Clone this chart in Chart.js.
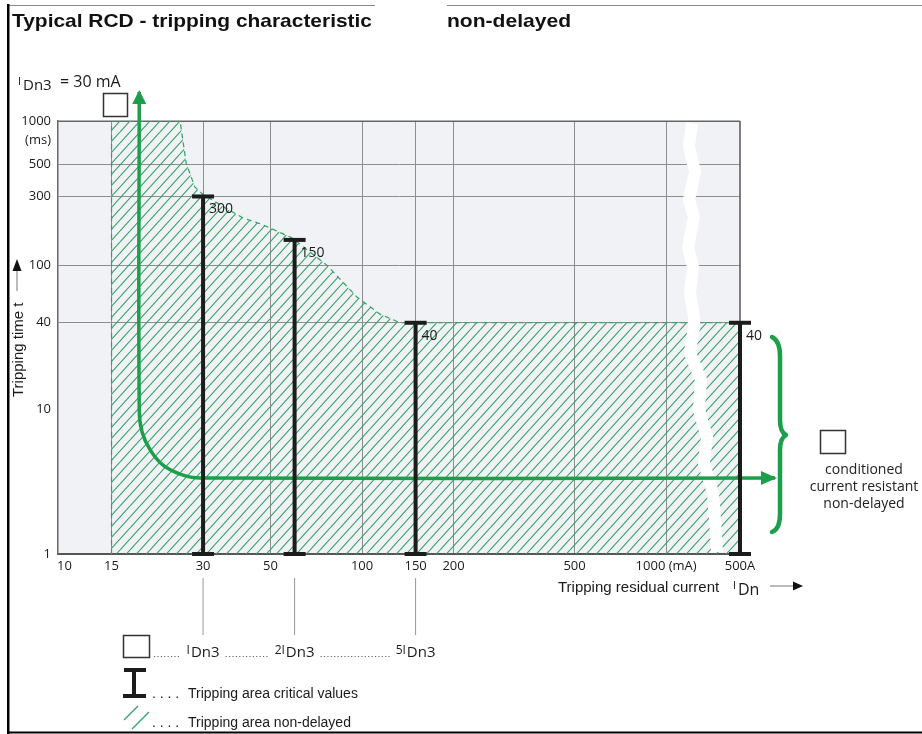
<!DOCTYPE html>
<html>
<head>
<meta charset="utf-8">
<title>Typical RCD - tripping characteristic</title>
<script src="https://cdn.jsdelivr.net/npm/chart.js@4.4.1/dist/chart.umd.min.js"></script>
<style>
html,body{margin:0;padding:0;background:#fff;width:922px;height:734px;overflow:hidden}
canvas{display:block}
</style>
</head>
<body>
<canvas id="chart" width="922" height="734"></canvas>
<script>
// ---------------- data ----------------
const xTickValues = [10, 15, 30, 50, 100, 150, 200, 500, 1000, 1750];
const xTickLabels = ['10', '15', '30', '50', '100', '150', '200', '500', '1000 (mA)', '500A'];
const yTickValues = [1, 10, 40, 100, 300, 500, 1000];
const yTickLabels = ['1', '10', '40', '100', '300', '500', '1000'];

// critical values (I-beams): residual current (mA) and tripping time (ms)
const criticalCurrent = [30, 60, 150, 1750];
const criticalTime = [300, 150, 40, 40];
const criticalLabels = ['300', '150', '40', '40'];
const legendMultiples = ['', '2', '5'];

// boundary of the non-delayed tripping area
const areaCurrent = [15, 25.2, 26.4, 28.2, 30.0, 35.4, 40.6, 47.2, 58.8, 76.7, 96.2, 114.6, 133.3, 1750];
const areaTime = [1000, 1000, 510, 348, 310, 251, 213, 191, 155, 100, 60.3, 45.9, 40, 40];

// typical tripping curve (green L-shaped arrow)
const typicalCurrent = [18.5, 18.5, 18.9, 20.1, 22.1, 25.2, 29.3, 2280];
const typicalTime = [1589, 9.95, 7.0, 5.26, 4.14, 3.58, 3.36, 3.36];

// white axis-break zigzag
const breakCurrent = [1216, 1189, 1245, 1189, 1235, 1180, 1226, 1198, 1235, 1235, 1198, 1302, 1283, 1363, 1332, 1426, 1459, 1470];
const breakTime = [969, 661, 443, 284, 216, 134, 97.4, 64.3, 43.9, 37.4, 24.7, 16.1, 9.95, 6.47, 4.27, 2.65, 1.40, 1.03];

// ---------------- styles ----------------
const GREEN = '#1c9e4a';
const HATCH = '#34a064';
const BLACK = '#1c1c1c';
const SANS = '"Open Sans", sans-serif';
const ARIAL = '"Liberation Sans", Arial, sans-serif';

function makeHatch() {
  const w = 10, h = 11;
  const c = document.createElement('canvas');
  c.width = w; c.height = h;
  const g = c.getContext('2d');
  g.strokeStyle = HATCH;
  g.lineWidth = 1.1;
  for (const o of [-w, 0, w]) {
    g.beginPath(); g.moveTo(o, h); g.lineTo(o + w, 0); g.stroke();
  }
  return g.createPattern(c, 'repeat');
}
const hatch = makeHatch();

const pts = (xs, ys) => xs.map((x, i) => ({ x: x, y: ys[i] }));

const datasets = [];
datasets.push({
  label: 'area', data: pts(areaCurrent, areaTime),
  borderColor: HATCH, borderWidth: 1.2, borderDash: [5, 4],
  backgroundColor: hatch, fill: 'start', pointRadius: 0, tension: 0, order: 10
});
datasets.push({
  label: 'areaEdge',
  data: [{ x: areaCurrent[0], y: yTickValues[0] }, { x: areaCurrent[0], y: areaTime[0] }],
  borderColor: HATCH, borderWidth: 1.2, borderDash: [5, 4], fill: false, pointRadius: 0, order: 9
});
datasets.push({
  label: 'break', data: pts(breakCurrent, breakTime),
  borderColor: '#ffffff', borderWidth: 12, borderJoinStyle: 'miter', fill: false, pointRadius: 0, order: 5
});
const TYP = datasets.length;
datasets.push({
  label: 'typical', data: pts(typicalCurrent, typicalTime),
  borderColor: GREEN, borderWidth: 3.5, fill: false, pointRadius: 0, tension: 0.4, clip: false, order: 3
});
const CRIT = datasets.length;
criticalCurrent.forEach((c, i) => {
  datasets.push({
    label: 'critical ' + criticalLabels[i],
    data: [{ x: c, y: yTickValues[0] }, { x: c, y: criticalTime[i] }],
    borderColor: BLACK, borderWidth: 4, fill: false,
    pointStyle: 'line', pointRadius: 11, pointBorderWidth: 4,
    pointBorderColor: BLACK, pointBackgroundColor: BLACK, clip: false, order: 1
  });
});

// ---------------- helpers ----------------
function txt(ctx, s, x, y, font, opts) {
  opts = opts || {};
  ctx.save();
  ctx.font = font;
  ctx.fillStyle = opts.color || '#1a1a1a';
  ctx.textAlign = opts.align || 'left';
  ctx.textBaseline = opts.baseline || 'alphabetic';
  ctx.fillText(s, x, y);
  ctx.restore();
}
function stretched(ctx, s, x, y, font, targetW) {
  ctx.save();
  ctx.font = font;
  const w = ctx.measureText(s).width;
  ctx.translate(x, y);
  ctx.scale(targetW / w, 1);
  ctx.fillStyle = '#111';
  ctx.textBaseline = 'alphabetic';
  ctx.fillText(s, 0, 0);
  ctx.restore();
}
function line(ctx, x1, y1, x2, y2, color, w, dash) {
  ctx.save();
  ctx.strokeStyle = color; ctx.lineWidth = w;
  if (dash) ctx.setLineDash(dash);
  ctx.beginPath(); ctx.moveTo(x1, y1); ctx.lineTo(x2, y2); ctx.stroke();
  ctx.restore();
}
function tri(ctx, a, b, c, color) {
  ctx.save(); ctx.fillStyle = color;
  ctx.beginPath(); ctx.moveTo(a[0], a[1]); ctx.lineTo(b[0], b[1]); ctx.lineTo(c[0], c[1]); ctx.closePath(); ctx.fill();
  ctx.restore();
}
function box(ctx, x, y, w, h) {
  ctx.save(); ctx.strokeStyle = '#333'; ctx.lineWidth = 1.5;
  ctx.strokeRect(x + 0.5, y + 0.5, w, h); ctx.restore();
}
// draws  [prefix]I(small) + "Dn3"(large), centred on cx; returns [left, right]
function idn(ctx, prefix, cx, base, small, big, sub) {
  ctx.save();
  ctx.font = small + 'px ' + SANS;
  const wp = ctx.measureText(prefix + 'I').width;
  ctx.font = big + 'px ' + SANS;
  const wd = ctx.measureText(sub).width;
  const total = wp + 1 + wd;
  const left = cx - total / 2;
  ctx.restore();
  txt(ctx, prefix + 'I', left, base - 3, small + 'px ' + SANS);
  txt(ctx, sub, left + wp + 1, base, big + 'px ' + SANS);
  return [left, left + total];
}

const decor = {
  id: 'decor',
  beforeDraw(chart) {
    const { ctx, chartArea: a } = chart;
    ctx.save();
    ctx.fillStyle = '#f0f2f5';
    ctx.fillRect(a.left, a.top, a.right - a.left, a.bottom - a.top);
    ctx.restore();
  },
  beforeDatasetsDraw(chart) {
    const { ctx, chartArea: a } = chart;
    line(ctx, a.right, a.top, a.right, a.bottom, '#555', 1.5);
    line(ctx, a.left, a.top, a.right, a.top, '#666', 1.2);
  },
  afterDatasetsDraw(chart) {
    const ctx = chart.ctx;
    const m = chart.getDatasetMeta(TYP);
    const p0 = m.data[0], pN = m.data[m.data.length - 1];
    tri(ctx, [p0.x, p0.y - 2], [p0.x - 7, p0.y + 12], [p0.x + 7, p0.y + 12], GREEN);
    tri(ctx, [pN.x + 2, pN.y], [pN.x - 14, pN.y - 7], [pN.x - 14, pN.y + 7], GREEN);
    criticalLabels.forEach((s, i) => {
      const top = chart.getDatasetMeta(CRIT + i).data[1];
      txt(ctx, s, top.x + 6, top.y + 13, '14px ' + SANS, { baseline: 'middle' });
    });
  },
  afterDraw(chart) {
    const ctx = chart.ctx;
    const ys = chart.scales.y;
    // page frame
    line(ctx, 8, 5.5, 375, 5.5, '#8a8a8a', 1.2);
    line(ctx, 447, 5.5, 922, 5.5, '#8a8a8a', 1.2);
    ctx.save(); ctx.fillStyle = '#000';
    ctx.fillRect(7, 4, 2.5, 730);
    ctx.fillRect(7, 731.5, 915, 2);
    ctx.restore();
    // titles
    stretched(ctx, 'Typical RCD - tripping characteristic', 12, 27, 'bold 19px ' + ARIAL, 360);
    stretched(ctx, 'non-delayed', 447, 27, 'bold 19px ' + ARIAL, 124);
    // I_Dn3 = 30 mA
    txt(ctx, 'I', 18, 85, '11px ' + SANS);
    txt(ctx, 'Dn3', 23, 90, '15px ' + SANS);
    txt(ctx, '= 30 mA', 60, 87, '16px ' + SANS);
    box(ctx, 103, 93, 24, 23);
    // (ms)
    txt(ctx, '(ms)', 51, ys.getPixelForValue(yTickValues[yTickValues.length - 1]) + 19, '13px ' + SANS, { align: 'right', baseline: 'middle' });
    // y axis title
    ctx.save();
    ctx.translate(23, 397); ctx.rotate(-Math.PI / 2);
    ctx.font = '15px ' + ARIAL; ctx.fillStyle = '#1a1a1a';
    ctx.fillText('Tripping time t', 0, 0);
    ctx.restore();
    line(ctx, 17, 291, 17, 270, '#777', 1);
    tri(ctx, [17, 259], [12.5, 271], [21.5, 271], '#111');
    // x axis title
    txt(ctx, 'Tripping residual current', 558, 592, '15px ' + ARIAL);
    txt(ctx, 'I', 733, 589, '11px ' + SANS);
    txt(ctx, 'Dn', 738, 595, '16px ' + SANS);
    line(ctx, 770, 586, 794, 586, '#777', 1);
    tri(ctx, [803, 586], [793, 581.5], [793, 590.5], '#111');
    // curly brace
    ctx.save();
    ctx.strokeStyle = GREEN; ctx.lineWidth = 4.5; ctx.lineCap = 'round'; ctx.lineJoin = 'round';
    ctx.beginPath();
    ctx.moveTo(772, 337);
    ctx.quadraticCurveTo(780, 341, 780, 356);
    ctx.lineTo(780, 420);
    ctx.quadraticCurveTo(780, 432, 786, 435);
    ctx.quadraticCurveTo(780, 438, 780, 450);
    ctx.lineTo(780, 514);
    ctx.quadraticCurveTo(780, 529, 772, 532);
    ctx.stroke();
    ctx.restore();
    // conditioned current resistant
    box(ctx, 820, 430, 25, 23);
    txt(ctx, 'conditioned', 864, 474, '14px ' + SANS, { align: 'center', color: '#222' });
    txt(ctx, 'current resistant', 864, 491, '14px ' + SANS, { align: 'center', color: '#222' });
    txt(ctx, 'non-delayed', 864, 508, '14px ' + SANS, { align: 'center', color: '#222' });
    // legend: leader lines from the critical currents
    box(ctx, 123, 635, 26, 22);
    let prevEnd = 154;
    legendMultiples.forEach((pre, i) => {
      const x = chart.getDatasetMeta(CRIT + i).data[0].x;
      line(ctx, x, 578, x, 635, '#999', 1);
      const ext = idn(ctx, pre, x, 657, 12, 15, 'Dn3');
      line(ctx, prevEnd, 656.5, ext[0] - 6, 656.5, '#666', 1, [1.2, 2.2]);
      prevEnd = ext[1] + 6;
    });
    // legend: I-beam symbol
    ctx.save(); ctx.fillStyle = BLACK;
    ctx.fillRect(124, 668, 22, 4);
    ctx.fillRect(132, 668, 4, 30);
    ctx.fillRect(123, 694, 23, 4);
    ctx.restore();
    txt(ctx, '. . . .', 152, 698, '14px ' + ARIAL);
    txt(ctx, 'Tripping area critical values', 188, 698, '14px ' + ARIAL);
    // legend: hatch symbol
    line(ctx, 124, 720, 138, 706, HATCH, 1.3);
    line(ctx, 132, 729, 149, 712, HATCH, 1.3);
    txt(ctx, '. . . .', 152, 727, '14px ' + ARIAL);
    txt(ctx, 'Tripping area non-delayed', 188, 727, '14px ' + ARIAL);
  }
};

const gridGray = '#8e8e8e';
new Chart(document.getElementById('chart'), {
  type: 'line',
  data: { datasets: datasets },
  plugins: [decor],
  options: {
    responsive: false,
    animation: false,
    events: [],
    layout: { padding: { left: 0, top: 121, right: 182, bottom: 0 } },
    plugins: { legend: { display: false }, tooltip: { enabled: false }, title: { display: false } },
    scales: {
      x: {
        type: 'logarithmic', position: 'bottom',
        min: xTickValues[0], max: xTickValues[xTickValues.length - 1],
        afterBuildTicks: s => { s.ticks = xTickValues.map(v => ({ value: v })); },
        afterFit: s => { s.height = 180; },
        ticks: {
          autoSkip: false, maxRotation: 0, minRotation: 0, padding: 4, color: '#1a1a1a',
          font: { family: SANS, size: 13 },
          callback: (v, i) => (i === 0 ? '\u2002\u2002' : '') + xTickLabels[i]
        },
        grid: {
          drawTicks: false, lineWidth: 1,
          color: c => (c.index === 0 || c.index === xTickValues.length - 1) ? 'rgba(0,0,0,0)' : gridGray
        },
        border: { display: true, color: '#555', width: 2 }
      },
      y: {
        type: 'logarithmic', position: 'left',
        min: yTickValues[0], max: yTickValues[yTickValues.length - 1],
        afterBuildTicks: s => { s.ticks = yTickValues.map(v => ({ value: v })); },
        afterFit: s => { s.width = 58; },
        ticks: {
          autoSkip: false, padding: 7, color: '#1a1a1a',
          font: { family: SANS, size: 13 },
          callback: (v, i) => yTickLabels[i]
        },
        grid: {
          drawTicks: false, lineWidth: 1,
          color: c => {
            const v = c.tick ? c.tick.value : null;
            if (v === 1 || v === 10) return 'rgba(0,0,0,0)';
            return v === 1000 ? '#666' : gridGray;
          }
        },
        border: { display: true, color: '#666', width: 1.5 }
      }
    }
  }
});
</script>
</body>
</html>
